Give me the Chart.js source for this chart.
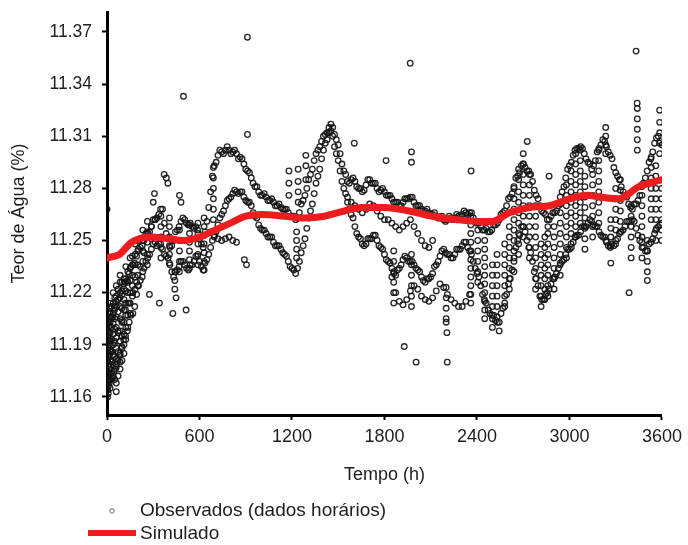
<!DOCTYPE html>
<html>
<head>
<meta charset="utf-8">
<script src="https://cdn.jsdelivr.net/npm/chart.js@4/dist/chart.umd.min.js"></script>
<style>
  html, body { margin: 0; padding: 0; background: #ffffff; }
  #wrap { width: 688px; height: 545px; }
</style>
</head>
<body>
<div id="wrap"><canvas id="chart" width="688" height="545"></canvas></div>
<script>
// Hourly soil water content (observed) and the simulated curve, Tempo in hours.
const HOUR_STEP = 24;

// Main observed chains, one reading per day starting at hour 0
const upperChain = [
  11.200, 11.205, 11.210, 11.216, 11.221, 11.226, 11.231, 11.236, 11.241, 11.246,
  11.250, 11.254, 11.258, 11.262, 11.265, 11.268, 11.254, 11.246, 11.250, 11.256,
  11.261, 11.262, 11.259, 11.258, 11.258, 11.251, 11.246, 11.261, 11.278, 11.293,
  11.299, 11.301, 11.302, 11.302, 11.301, 11.300, 11.298, 11.294, 11.290, 11.286,
  11.281, 11.278, 11.276, 11.275, 11.273, 11.272, 11.270, 11.269, 11.268, 11.266,
  11.264, 11.262, 11.266, 11.273, 11.280, 11.288, 11.296, 11.302, 11.307, 11.311,
  11.315, 11.315, 11.308, 11.300, 11.290, 11.284, 11.285, 11.284, 11.280, 11.278,
  11.282, 11.285, 11.283, 11.280, 11.279, 11.278, 11.276, 11.274, 11.272, 11.270,
  11.272, 11.274, 11.275, 11.272, 11.270, 11.268, 11.267, 11.266, 11.265, 11.264,
  11.263, 11.262, 11.262, 11.263, 11.263, 11.264, 11.265, 11.266, 11.266, 11.263,
  11.260, 11.258, 11.256, 11.255, 11.256, 11.259, 11.262, 11.266, 11.270, 11.275,
  11.281, 11.287, 11.293, 11.292, 11.290, 11.284, 11.276, 11.270, 11.266, 11.262,
  11.264, 11.266, 11.270, 11.278, 11.286, 11.293, 11.299, 11.303, 11.304, 11.300,
  11.295, 11.291, 11.296, 11.303, 11.308, 11.304, 11.299, 11.292, 11.287, 11.281,
  11.276, 11.271, 11.268, 11.271, 11.276, 11.283, 11.290, 11.297, 11.306, 11.310,
  11.305
];

// Same chain, readings taken at mid-day (starting at hour 12)
const upperChainNoon = [
  11.204, 11.206, 11.215, 11.217, 11.225, 11.227, 11.235, 11.237, 11.245, 11.247,
  11.254, 11.255, 11.262, 11.263, 11.268, 11.260, 11.251, 11.247, 11.255, 11.258,
  11.263, 11.260, 11.260, 11.257, 11.256, 11.248, 11.255, 11.269, 11.287, 11.295,
  11.302, 11.300, 11.304, 11.300, 11.302, 11.297, 11.297, 11.291, 11.289, 11.283,
  11.281, 11.276, 11.277, 11.273, 11.274, 11.270, 11.271, 11.268, 11.268, 11.264,
  11.264, 11.263, 11.271, 11.276, 11.285, 11.291, 11.300, 11.304, 11.310, 11.312,
  11.317, 11.311, 11.305, 11.294, 11.288, 11.283, 11.286, 11.281, 11.280, 11.279,
  11.285, 11.283, 11.283, 11.278, 11.280, 11.276, 11.276, 11.272, 11.272, 11.270,
  11.274, 11.274, 11.275, 11.270, 11.270, 11.267, 11.268, 11.265, 11.266, 11.263,
  11.264, 11.261, 11.264, 11.262, 11.265, 11.264, 11.267, 11.265, 11.266, 11.261,
  11.260, 11.256, 11.257, 11.255, 11.259, 11.260, 11.265, 11.267, 11.274, 11.277,
  11.286, 11.289, 11.294, 11.290, 11.288, 11.279, 11.274, 11.267, 11.265, 11.262,
  11.266, 11.267, 11.275, 11.281, 11.291, 11.295, 11.302, 11.303, 11.303, 11.297,
  11.294, 11.293, 11.301, 11.305, 11.307, 11.301, 11.297, 11.289, 11.285, 11.278,
  11.275, 11.269, 11.271, 11.273, 11.281, 11.286, 11.295, 11.301, 11.309, 11.307
];

const middleChain = [
  11.165, 11.170, 11.175, 11.181, 11.189, 11.195, 11.203, 11.208, 11.219, 11.227,
  11.234, 11.240, 11.245, 11.249, 11.248, 11.245, 11.241, 11.236, 11.229, 11.233,
  11.238, 11.236, 11.233, 11.236, 11.241, 11.238, 11.233, 11.239, 11.246, 11.252,
  11.259, 11.265, 11.270, 11.274, 11.277, 11.278, 11.278, 11.275, 11.272, 11.270,
  11.264, 11.259, 11.256, 11.254, 11.252, 11.249, 11.247, 11.245, 11.242, 11.238,
  11.234, 11.231, 11.238, 11.247, 11.257, 11.267, 11.277, 11.287, 11.297, 11.306,
  11.312, 11.310, 11.300, 11.290, 11.280, 11.272, 11.265, 11.258, 11.252, 11.248,
  11.248, 11.251, 11.253, 11.250, 11.246, 11.242, 11.238, 11.234, 11.230, 11.234,
  11.239, 11.240, 11.238, 11.236, 11.233, 11.229, 11.226, 11.228, 11.231, 11.236,
  11.241, 11.245, 11.242, 11.240, 11.242, 11.245, 11.247, 11.249, 11.244, 11.238,
  11.231, 11.224, 11.216, 11.210, 11.207, 11.204, 11.203, 11.211, 11.219, 11.228,
  11.240, 11.250, 11.258, 11.255, 11.246, 11.238, 11.228, 11.218, 11.216, 11.220,
  11.225, 11.229, 11.234, 11.238, 11.242, 11.245, 11.249, 11.253, 11.255, 11.258,
  11.260, 11.261, 11.258, 11.255, 11.252, 11.249, 11.246, 11.247, 11.251, 11.255,
  11.258, 11.261, 11.262, 11.257, 11.250, 11.246, 11.244, 11.249, 11.254, 11.258,
  11.260
];

const middleChainNoon = [
  11.169, 11.171, 11.179, 11.184, 11.193, 11.198, 11.207, 11.212, 11.224, 11.229,
  11.238, 11.242, 11.248, 11.247, 11.248, 11.242, 11.240, 11.232, 11.232, 11.235,
  11.238, 11.234, 11.236, 11.238, 11.241, 11.235, 11.237, 11.242, 11.250, 11.255,
  11.263, 11.267, 11.273, 11.275, 11.279, 11.277, 11.278, 11.273, 11.272, 11.266,
  11.263, 11.257, 11.256, 11.252, 11.252, 11.247, 11.247, 11.243, 11.241, 11.235,
  11.233, 11.234, 11.243, 11.251, 11.263, 11.271, 11.283, 11.291, 11.302, 11.308,
  11.313, 11.304, 11.296, 11.284, 11.277, 11.268, 11.263, 11.254, 11.251, 11.247,
  11.251, 11.251, 11.253, 11.247, 11.245, 11.239, 11.237, 11.231, 11.233, 11.236,
  11.241, 11.238, 11.238, 11.234, 11.232, 11.227, 11.228, 11.229, 11.235, 11.238,
  11.244, 11.243, 11.242, 11.240, 11.245, 11.245, 11.249, 11.246, 11.242, 11.234,
  11.229, 11.219, 11.214, 11.208, 11.207, 11.203, 11.208, 11.214, 11.225, 11.233,
  11.246, 11.253, 11.258, 11.250, 11.243, 11.232, 11.224, 11.216, 11.219, 11.222,
  11.228, 11.231, 11.237, 11.239, 11.245, 11.246, 11.252, 11.253, 11.258, 11.258,
  11.262, 11.259, 11.258, 11.253, 11.252, 11.247, 11.248, 11.248, 11.254, 11.256,
  11.261, 11.261, 11.261, 11.253, 11.249, 11.244, 11.248, 11.251, 11.257, 11.259
];

// Shorter chains (first hour, then daily readings)
const earlyChainStart = 0;
const earlyChain = [11.180, 11.186, 11.192, 11.198, 11.204, 11.210, 11.214, 11.220,
  11.226, 11.235, 11.243, 11.252, 11.258, 11.262];

const riseChainStart = 672;
const riseChain = [11.255, 11.253, 11.251, 11.250, 11.251, 11.252, 11.250, 11.249];

const plateauChainStart = 1560;
const plateauChain = [11.275, 11.272, 11.270, 11.268, 11.266, 11.268, 11.271, 11.270,
  11.267, 11.264, 11.262, 11.262, 11.260, 11.258, 11.256, 11.258, 11.260, 11.262,
  11.258, 11.254, 11.250, 11.247, 11.246, 11.250];

const lowChainStart = 1848;
const lowChain = [11.229, 11.220, 11.215, 11.213, 11.216, 11.221, 11.224, 11.222,
  11.218, 11.216, 11.215, 11.217, 11.221, 11.225, 11.223, 11.219, 11.216, 11.214,
  11.212, 11.212, 11.215, 11.219];

// Fast swings within a day: [hour, readings]
const dailySwings = [
  [4,    [11.160, 11.164, 11.169, 11.175, 11.181, 11.186, 11.192, 11.197]],
  [8,    [11.162, 11.166, 11.170, 11.174, 11.178, 11.183, 11.188, 11.193, 11.198, 11.203, 11.208]],
  [15,   [11.168, 11.173, 11.179, 11.185, 11.190, 11.196, 11.201, 11.206, 11.211]],
  [20,   [11.165, 11.170, 11.176, 11.181, 11.187, 11.192, 11.197, 11.203, 11.209, 11.214]],
  [30,   [11.174, 11.180, 11.186, 11.193, 11.200, 11.206, 11.212]],
  [40,   [11.172, 11.178, 11.184, 11.190, 11.196, 11.202, 11.208, 11.214, 11.220]],
  [50,   [11.170, 11.176, 11.183, 11.191, 11.199, 11.205, 11.211, 11.217]],
  [60,   [11.163, 11.168, 11.177, 11.182, 11.188, 11.194, 11.200, 11.206, 11.212, 11.218, 11.224]],
  [72,   [11.172, 11.186, 11.197, 11.209, 11.216, 11.222]],
  [85,   [11.176, 11.180, 11.185, 11.192, 11.198, 11.205, 11.212, 11.220, 11.226, 11.230]],
  [97,   [11.181, 11.188, 11.195, 11.203, 11.211, 11.219, 11.226]],
  [110,  [11.185, 11.190, 11.196, 11.203, 11.210, 11.216, 11.222, 11.228]],
  [122,  [11.193, 11.200, 11.207, 11.214, 11.221, 11.228, 11.235]],
  [135,  [11.200, 11.207, 11.214, 11.220, 11.226, 11.232]],
  [150,  [11.208, 11.214, 11.220, 11.227, 11.234, 11.240]],
  [165,  [11.218, 11.224, 11.230, 11.236, 11.241]],
  [182,  [11.222, 11.229, 11.236, 11.242, 11.248]],
  [200,  [11.224, 11.230, 11.236, 11.244, 11.250]],
  [232,  [11.232, 11.238, 11.244, 11.250, 11.256]],
  [262,  [11.236, 11.242, 11.249, 11.255, 11.261]],
  [350,  [11.240, 11.246, 11.252, 11.258, 11.264]],
  [405,  [11.237, 11.242, 11.247, 11.252, 11.258, 11.263]],
  [440,  [11.222, 11.227, 11.232]],
  [470,  [11.232, 11.238, 11.244, 11.250, 11.256]],
  [535,  [11.234, 11.239, 11.244, 11.249, 11.254, 11.259]],
  [590,  [11.236, 11.242, 11.248, 11.254, 11.260]],
  [630,  [11.233, 11.238, 11.243, 11.248, 11.253, 11.258, 11.263]],
  [690,  [11.262, 11.268, 11.274, 11.280, 11.286, 11.292]],
  [1180, [11.276, 11.283, 11.290]],
  [1230, [11.240, 11.245, 11.250, 11.255]],
  [1240, [11.272, 11.278, 11.284, 11.291]],
  [1290, [11.285, 11.293, 11.299]],
  [1860, [11.214, 11.220, 11.226, 11.232, 11.238, 11.244]],
  [1975, [11.212, 11.218, 11.224, 11.230, 11.236, 11.242]],
  [2200, [11.205, 11.211, 11.217, 11.223]],
  [2360, [11.214, 11.219, 11.224, 11.229, 11.234, 11.239, 11.244, 11.249, 11.254, 11.259, 11.264]],
  [2405, [11.226, 11.232, 11.238, 11.244, 11.250, 11.256]],
  [2450, [11.205, 11.210, 11.215, 11.220, 11.225, 11.230, 11.235, 11.240, 11.245, 11.250]],
  [2500, [11.200, 11.205, 11.212, 11.218, 11.224, 11.230, 11.236]],
  [2530, [11.206, 11.212, 11.218, 11.224, 11.230, 11.236, 11.242]],
  [2580, [11.212, 11.218, 11.224, 11.230, 11.236, 11.242, 11.248]],
  [2610, [11.222, 11.228, 11.234, 11.240, 11.246, 11.252, 11.258]],
  [2640, [11.232, 11.238, 11.244, 11.250, 11.256, 11.262, 11.268, 11.274, 11.280]],
  [2670, [11.242, 11.248, 11.254, 11.260, 11.266, 11.272, 11.278, 11.285, 11.291]],
  [2700, [11.252, 11.258, 11.264, 11.270, 11.276, 11.282, 11.288, 11.294, 11.300]],
  [2740, [11.240, 11.246, 11.252, 11.258, 11.264, 11.270, 11.276, 11.282, 11.288]],
  [2780, [11.222, 11.228, 11.234, 11.240, 11.246, 11.252, 11.258, 11.264, 11.270]],
  [2816, [11.212, 11.218, 11.224, 11.230, 11.236, 11.242, 11.248]],
  [2840, [11.216, 11.222, 11.228, 11.234, 11.240, 11.246, 11.252]],
  [2860, [11.218, 11.224, 11.230, 11.236, 11.242, 11.248, 11.254, 11.258]],
  [2900, [11.222, 11.228, 11.234, 11.240, 11.246, 11.252, 11.258]],
  [2940, [11.230, 11.236, 11.242, 11.248, 11.254, 11.260, 11.266, 11.271]],
  [2980, [11.240, 11.246, 11.252, 11.258, 11.264, 11.270, 11.276, 11.282]],
  [3010, [11.248, 11.254, 11.260, 11.266, 11.272, 11.278, 11.284, 11.290]],
  [3040, [11.252, 11.258, 11.264, 11.270, 11.276, 11.282, 11.288, 11.294, 11.300]],
  [3070, [11.260, 11.266, 11.272, 11.278, 11.284, 11.290, 11.296, 11.302]],
  [3100, [11.245, 11.251, 11.257, 11.263, 11.269, 11.275, 11.281, 11.287]],
  [3150, [11.252, 11.258, 11.264, 11.270, 11.276, 11.282, 11.288]],
  [3190, [11.260, 11.266, 11.272, 11.278, 11.284, 11.290, 11.296, 11.302]],
  [3235, [11.300, 11.305, 11.310, 11.315]],
  [3268, [11.237, 11.247, 11.252, 11.257, 11.262]],
  [3300, [11.250, 11.256, 11.262, 11.268, 11.274, 11.280]],
  [3330, [11.255, 11.261, 11.267, 11.273, 11.279, 11.285]],
  [3400, [11.240, 11.246, 11.252, 11.258, 11.264, 11.270]],
  [3440, [11.302, 11.308, 11.314, 11.320, 11.326]],
  [3470, [11.240, 11.246, 11.252, 11.258, 11.264, 11.270, 11.276, 11.282]],
  [3505, [11.227, 11.232, 11.238, 11.244, 11.250]],
  [3530, [11.262, 11.268, 11.274, 11.280, 11.286, 11.292, 11.298]],
  [3560, [11.250, 11.256, 11.262, 11.268, 11.274, 11.280, 11.287, 11.293]],
  [3585, [11.300, 11.306, 11.312, 11.318, 11.325]],
  [3598, [11.250, 11.256, 11.262, 11.268, 11.274, 11.280]]
];

// Isolated hourly readings: [hour, value]
const isolatedReadings = [
  [0, 11.268], [275, 11.219], [300, 11.272], [308, 11.277], [340, 11.214],
  [371, 11.288], [385, 11.286], [395, 11.283], [427, 11.208], [448, 11.217],
  [470, 11.276], [480, 11.272], [496, 11.333], [513, 11.210], [891, 11.239],
  [905, 11.236], [911, 11.311], [911, 11.367], [1604, 11.306], [1810, 11.296],
  [1928, 11.189], [1967, 11.352], [1975, 11.301], [1975, 11.295], [2005, 11.180],
  [2200, 11.203], [2205, 11.197], [2207, 11.180], [2362, 11.290], [2544, 11.198],
  [2726, 11.307], [2868, 11.287], [3237, 11.250], [3387, 11.220], [3432, 11.359],
  [3439, 11.329]
];

// Simulated water content
const simHours  = [0, 80, 160, 280, 400, 500, 600, 700, 800, 900, 1000, 1150, 1280, 1410,
  1540, 1650, 1800, 1960, 2110, 2270, 2420, 2500, 2610, 2740, 2870, 3000, 3110, 3200,
  3320, 3450, 3600];
const simValues = [11.240, 11.242, 11.249, 11.252, 11.251, 11.250, 11.252, 11.256, 11.260,
  11.264, 11.265, 11.264, 11.263, 11.264, 11.267, 11.269, 11.269, 11.267, 11.264, 11.262,
  11.261, 11.261, 11.266, 11.269, 11.270, 11.274, 11.276, 11.275, 11.274, 11.281, 11.285];

const xTicks = [0, 600, 1200, 1800, 2400, 3000, 3600];
const yTicks = [11.16, 11.19, 11.22, 11.25, 11.28, 11.31, 11.34, 11.37];

const labelObs = 'Observados (dados horários)';
const labelSim = 'Simulado';

// ---- build point lists
function chainPoints(start, values) {
  return values.map((v, i) => ({ x: start + i * HOUR_STEP, y: v }));
}
const observed = [].concat(
  chainPoints(0, upperChain),
  chainPoints(12, upperChainNoon),
  chainPoints(0, middleChain),
  chainPoints(12, middleChainNoon),
  chainPoints(earlyChainStart, earlyChain),
  chainPoints(riseChainStart, riseChain),
  chainPoints(plateauChainStart, plateauChain),
  chainPoints(lowChainStart, lowChain),
  ...dailySwings.map(([h, vals]) => vals.map(v => ({ x: h, y: v }))),
  isolatedReadings.map(([h, v]) => ({ x: h, y: v }))
);
const simulated = simHours.map((h, i) => ({ x: h, y: simValues[i] }));

const FONT = "'Liberation Sans', Arial, sans-serif";
const INK = '#1e1e1e';
const MARK = 'rgba(20,20,20,0.92)';
const RED = '#ec1c1f';

Chart.defaults.font.family = FONT;
Chart.defaults.color = INK;

// Legend stacked under the axis title
const stackedLegend = {
  id: 'stackedLegend',
  afterDraw(chart) {
    const ctx = chart.ctx;
    const ds = chart.data.datasets;
    ctx.save();
    ctx.font = '19px ' + FONT;
    ctx.fillStyle = INK;
    ctx.textBaseline = 'middle';
    ctx.beginPath();
    ctx.arc(112, 511, 2.2, 0, Math.PI * 2);
    ctx.strokeStyle = 'rgba(90,90,90,0.9)';
    ctx.lineWidth = 1;
    ctx.stroke();
    ctx.fillText(ds[1].label, 140, 511);
    ctx.beginPath();
    ctx.moveTo(88, 533);
    ctx.lineTo(136, 533);
    ctx.strokeStyle = RED;
    ctx.lineWidth = 6;
    ctx.stroke();
    ctx.fillText(ds[0].label, 140, 534);
    ctx.restore();
  }
};

new Chart(document.getElementById('chart'), {
  type: 'scatter',
  data: {
    datasets: [
      {
        type: 'line',
        label: labelSim,
        data: simulated,
        borderColor: RED,
        borderWidth: 7,
        pointRadius: 0,
        cubicInterpolationMode: 'monotone',
        borderCapStyle: 'round',
        order: 0
      },
      {
        label: labelObs,
        data: observed,
        pointRadius: 2.8,
        pointBorderWidth: 1.3,
        pointBorderColor: MARK,
        pointBackgroundColor: 'rgba(255,255,255,0)',
        order: 1
      }
    ]
  },
  options: {
    responsive: false,
    animation: false,
    devicePixelRatio: 1,
    layout: { padding: { top: 12, right: 25, left: 0, bottom: 0 } },
    plugins: { legend: { display: false }, tooltip: { enabled: false } },
    scales: {
      x: {
        type: 'linear',
        min: 0, max: 3600,
        afterBuildTicks(s) { s.ticks = xTicks.map(v => ({ value: v })); },
        afterFit(s) { s.height = 130; },
        ticks: { font: { size: 18 }, color: INK, padding: 6, maxRotation: 0,
                 callback: v => String(v) },
        grid: { drawOnChartArea: false, tickLength: 5, tickWidth: 2, tickColor: '#000' },
        border: { display: true, width: 3, color: '#000' },
        title: { display: true, text: 'Tempo (h)', font: { size: 18 }, color: INK,
                 padding: { top: 0, bottom: 59 } }
      },
      y: {
        type: 'linear',
        min: 11.1496, max: 11.3815,
        afterBuildTicks(s) { s.ticks = yTicks.map(v => ({ value: v })); },
        afterFit(s) { s.width = 107; s.paddingTop = 0; s.paddingBottom = 0; },
        ticks: { font: { size: 17.5 }, color: INK, padding: 10,
                 callback: v => Number(v).toFixed(2) },
        grid: { drawOnChartArea: false, tickLength: 5, tickWidth: 2, tickColor: '#000' },
        border: { display: true, width: 3, color: '#000' },
        title: { display: true, text: 'Teor de Água (%)', font: { size: 18 }, color: INK,
                 padding: { top: 8, bottom: 0 } }
      }
    }
  },
  plugins: [stackedLegend]
});
</script>
</body>
</html>
